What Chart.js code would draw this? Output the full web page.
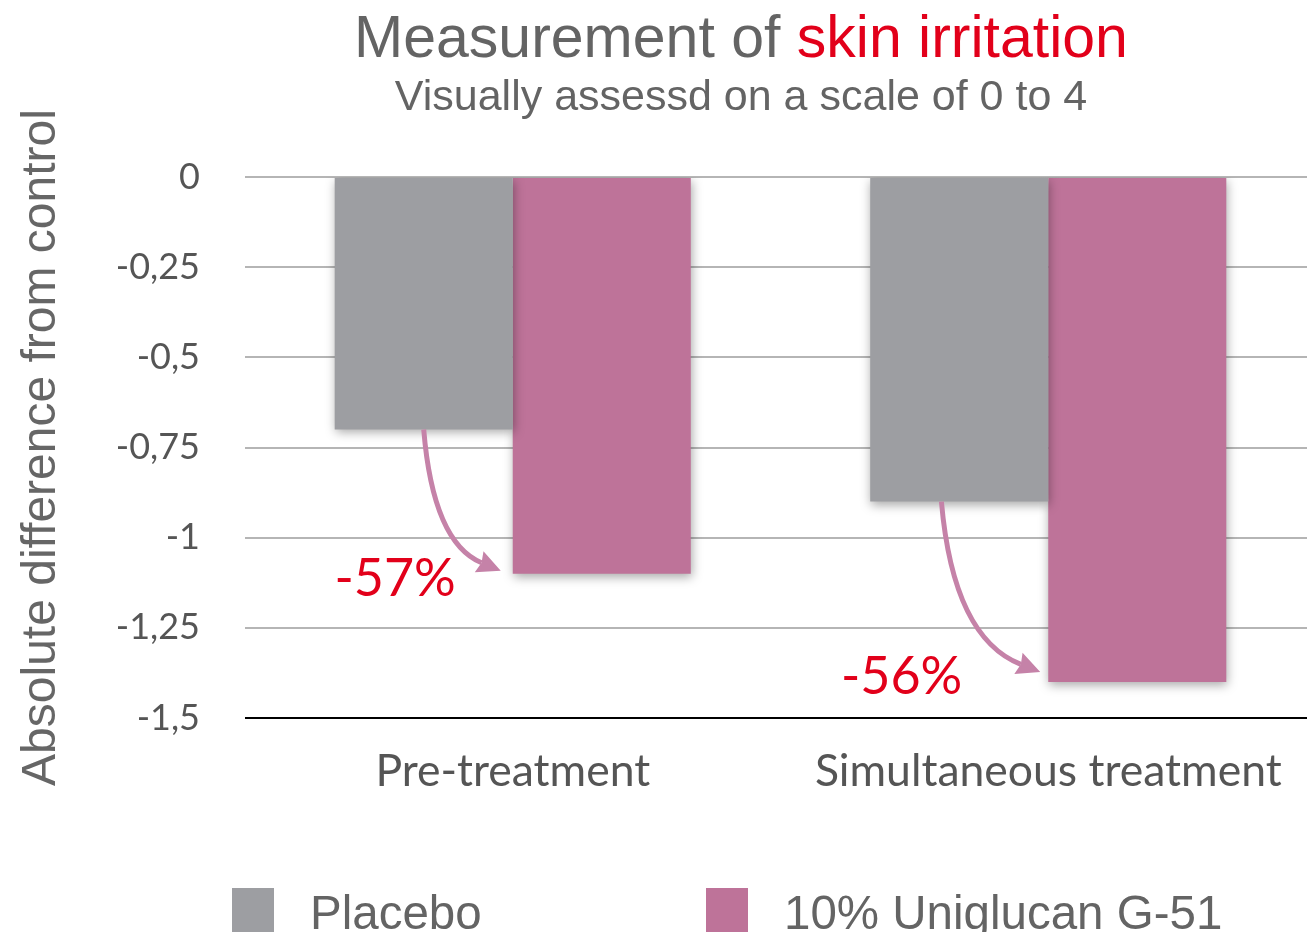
<!DOCTYPE html>
<html>
<head>
<meta charset="utf-8">
<script src="https://cdn.jsdelivr.net/npm/chart.js@4/dist/chart.umd.min.js"></script>
<style>
  html, body { margin: 0; padding: 0; background: #fff; overflow: hidden; }
  #wrap { width: 1316px; height: 932px; }
</style>
</head>
<body>
<div id="wrap"><canvas id="chart"></canvas></div>
<script>
const categories = ['Pre-treatment', 'Simultaneous treatment'];
const placebo = [-0.70, -0.90];
const uniglucan = [-1.10, -1.40];
const seriesNames = ['Placebo', '10% Uniglucan G-51'];
const reductions = ['-57%', '-56%'];
const yTickLabels = ['0', '-0,25', '-0,5', '-0,75', '-1', '-1,25', '-1,5'];

const grey = '#9d9ea2';
const pink = '#be7399';
const arrowColor = '#c582a8';
const red = '#e2001a';

// title, subtitle and legend drawn straight on the canvas
const decorPlugin = {
  id: 'decor',
  afterDraw(chart) {
    const ctx = chart.ctx;
    ctx.save();
    ctx.textBaseline = 'alphabetic';

    ctx.font = '59px "Liberation Sans", Arial, sans-serif';
    const a = 'Measurement of ';
    const b = 'skin irritation';
    const wa = ctx.measureText(a).width;
    const wb = ctx.measureText(b).width;
    let x = 741 - (wa + wb) / 2;
    ctx.textAlign = 'left';
    ctx.fillStyle = '#646464';
    ctx.fillText(a, x, 57);
    ctx.fillStyle = red;
    ctx.fillText(b, x + wa, 57);

    ctx.font = '43px "Liberation Sans", Arial, sans-serif';
    ctx.fillStyle = '#646464';
    ctx.textAlign = 'center';
    ctx.fillText('Visually assessd on a scale of 0 to 4', 741, 110);

    // legend
    const items = [[232, grey], [706, pink]];
    ctx.font = '47.5px "Liberation Sans", Arial, sans-serif';
    ctx.textAlign = 'left';
    items.forEach((it, i) => {
      ctx.fillStyle = it[1];
      ctx.fillRect(it[0], 888, 42, 50);
      ctx.fillStyle = '#646464';
      ctx.fillText(seriesNames[i], it[0] + 78, 929);
    });
    ctx.restore();
  }
};

// curved arrows and percentage labels, anchored on the bar elements
const arrowPlugin = {
  id: 'arrows',
  afterDatasetsDraw(chart) {
    const ctx = chart.ctx;
    const m0 = chart.getDatasetMeta(0).data;
    const m1 = chart.getDatasetMeta(1).data;
    const startFrac = [0.5, 0.4];
    const tipOff = [[-12, -3], [-8, -10]];
    const labelOff = [[-45, 25], [-78, 22]];
    ctx.save();
    m0.forEach((bar0, i) => {
      const bar1 = m1[i];
      const w = bar0.width;
      const left0 = bar0.x - w / 2;
      const sx = left0 + w * startFrac[i];
      const sy = bar0.y;
      const ex = bar1.x - bar1.width / 2 + tipOff[i][0];
      const ey = bar1.y + tipOff[i][1];
      const cx = sx + (ex - sx) * 0.12;
      const cy = sy + (ey - sy) * 0.8;

      ctx.strokeStyle = arrowColor;
      ctx.fillStyle = arrowColor;
      ctx.lineWidth = 5;
      const ang = Math.atan2(ey - cy, ex - cx);
      const hl = 26;
      const bx = ex - Math.cos(ang) * hl * 0.8;
      const by = ey - Math.sin(ang) * hl * 0.8;
      ctx.beginPath();
      ctx.moveTo(sx, sy);
      ctx.quadraticCurveTo(cx, cy, bx, by);
      ctx.stroke();
      ctx.beginPath();
      ctx.moveTo(ex, ey);
      ctx.lineTo(ex - hl * Math.cos(ang - 0.45), ey - hl * Math.sin(ang - 0.45));
      ctx.lineTo(bx, by);
      ctx.lineTo(ex - hl * Math.cos(ang + 0.45), ey - hl * Math.sin(ang + 0.45));
      ctx.closePath();
      ctx.fill();

      ctx.font = '52px Lato, sans-serif';
      ctx.fillStyle = red;
      ctx.textAlign = 'right';
      ctx.textBaseline = 'alphabetic';
      ctx.fillText(reductions[i], ex + labelOff[i][0], ey + labelOff[i][1]);
    });
    ctx.restore();
  }
};

const shadowPlugin = {
  id: 'barShadow',
  beforeDatasetDraw(chart) {
    const ctx = chart.ctx;
    ctx.save();
    ctx.shadowColor = 'rgba(0,0,0,0.35)';
    ctx.shadowBlur = 10;
    ctx.shadowOffsetX = 1;
    ctx.shadowOffsetY = 3;
  },
  afterDatasetDraw(chart) {
    chart.ctx.restore();
  }
};

new Chart(document.getElementById('chart'), {
  type: 'bar',
  data: {
    labels: categories,
    datasets: [
      { label: seriesNames[0], data: placebo, backgroundColor: grey },
      { label: seriesNames[1], data: uniglucan, backgroundColor: pink }
    ]
  },
  options: {
    responsive: true,
    maintainAspectRatio: false,
    animation: false,
    layout: { padding: { top: 177, left: 0, right: 0, bottom: 0 } },
    datasets: { bar: { categoryPercentage: 0.665, barPercentage: 1 } },
    plugins: {
      legend: { display: false },
      tooltip: { enabled: false }
    },
    scales: {
      x: {
        grid: { display: false, drawTicks: false },
        border: { display: false },
        ticks: {
          color: '#555',
          font: { family: 'Lato', size: 44.5 },
          padding: 27,
          maxRotation: 0
        },
        afterFit(scale) { scale.height = 214; }
      },
      y: {
        min: -1.5,
        max: 0,
        ticks: {
          stepSize: 0.25,
          color: '#555',
          font: { family: 'Lato', size: 36 },
          padding: 45,
          callback: (v, i) => yTickLabels[yTickLabels.length - 1 - i]
        },
        grid: {
          drawTicks: false,
          lineWidth: 2,
          color: c => (c.tick && c.tick.value === -1.5) ? '#000' : '#b5b5b5'
        },
        border: { display: false },
        title: {
          display: true,
          text: 'Absolute difference from control',
          color: '#666',
          font: { family: '"Liberation Sans", Arial, sans-serif', size: 48 },
          padding: { top: 13, bottom: 0 }
        },
        afterFit(scale) { scale.width = 245; }
      }
    }
  },
  plugins: [shadowPlugin, arrowPlugin, decorPlugin]
});
</script>
</body>
</html>
